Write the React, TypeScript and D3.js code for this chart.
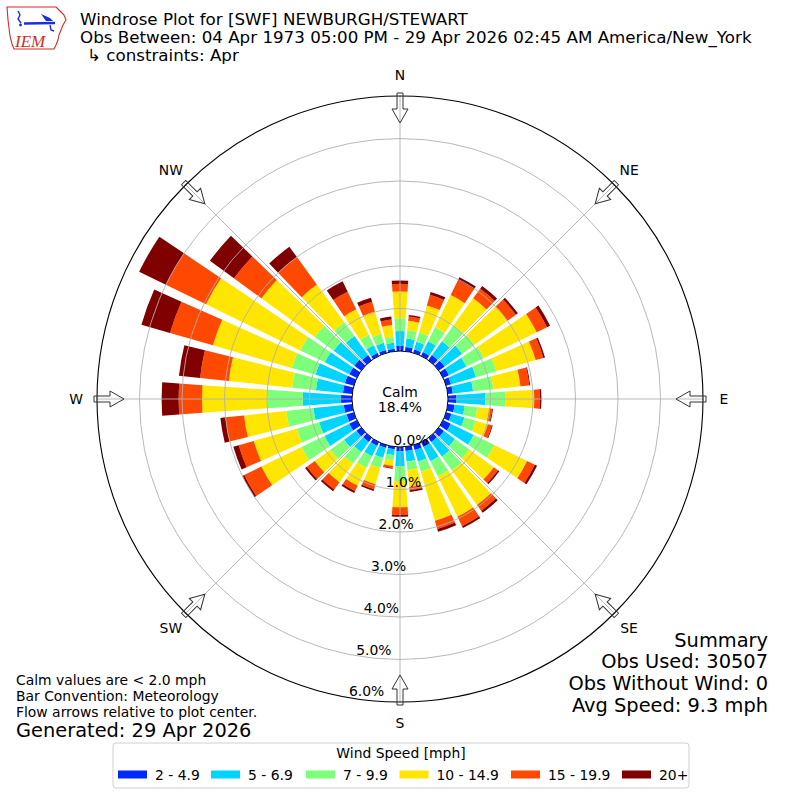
import * as d3 from 'd3';

// wind directions (degrees, meteorological convention)
const directions = [
  0, 10, 20, 30, 40, 50, 60, 70, 80, 90, 100, 110, 120, 130, 140, 150, 160, 170,
  180, 190, 200, 210, 220, 230, 240, 250, 260, 270, 280, 290, 300, 310, 320, 330, 340, 350,
];

const speedBins = ['2 - 4.9', '5 - 6.9', '7 - 9.9', '10 - 14.9', '15 - 19.9', '20+'];
const binColors = ['#0028ff', '#00d4ff', '#7dff7a', '#ffe600', '#ff4800', '#800000'];

// frequency (%) per direction for each speed bin
const freq2to5 = [
  0.12, 0.1, 0.08, 0.1, 0.15, 0.17, 0.15, 0.12, 0.12, 0.2, 0.16, 0.13, 0.2, 0.15, 0.12, 0.13, 0.12, 0.1,
  0.1, 0.06, 0.07, 0.1, 0.12, 0.14, 0.2, 0.18, 0.2, 0.26, 0.22, 0.22, 0.2, 0.2, 0.15, 0.08, 0.07, 0.06,
];
const freq5to7 = [
  0.35, 0.2, 0.19, 0.28, 0.4, 0.51, 0.46, 0.61, 0.48, 0.68, 0.24, 0.32, 0.6, 0.32, 0.43, 0.37, 0.28, 0.25,
  0.35, 0.14, 0.24, 0.27, 0.3, 0.36, 0.65, 0.67, 0.72, 0.9, 0.64, 0.72, 0.64, 0.6, 0.55, 0.2, 0.18, 0.14,
];
const freq7to10 = [
  0.3, 0.2, 0.23, 0.37, 0.47, 0.36, 0.46, 0.5, 0.48, 0.48, 0.3, 0.28, 0.54, 0.42, 0.4, 0.4, 0.25, 0.2,
  0.35, 0.12, 0.25, 0.3, 0.33, 0.4, 0.6, 0.55, 0.64, 0.83, 0.56, 0.58, 0.64, 0.55, 0.4, 0.27, 0.22, 0.14,
];
const freq10to15 = [
  0.63, 0.22, 0.66, 0.84, 0.78, 0.96, 1.38, 0.96, 0.64, 0.67, 0.28, 0.29, 0.86, 0.71, 1.0, 1.05, 1.2, 0.4,
  0.62, 0.13, 0.4, 0.47, 0.54, 0.45, 1.05, 1.05, 1.0, 1.54, 1.5, 1.93, 2.47, 1.55, 1.1, 0.67, 0.54, 0.28,
];
const freq15to20 = [
  0.18, 0.1, 0.26, 0.39, 0.28, 0.24, 0.27, 0.19, 0.21, 0.13, 0.07, 0.1, 0.2, 0.12, 0.17, 0.25, 0.2, 0.08,
  0.18, 0.05, 0.12, 0.14, 0.21, 0.23, 0.45, 0.37, 0.44, 0.55, 0.68, 1.05, 1.05, 0.8, 0.8, 0.46, 0.24, 0.13,
];
const freq20plus = [
  0.08, 0.04, 0.07, 0.08, 0.08, 0.06, 0.08, 0.04, 0.02, 0.04, 0.02, 0.02, 0.06, 0.04, 0.06, 0.05, 0.07, 0.04,
  0.04, 0.02, 0.04, 0.05, 0.05, 0.05, 0.05, 0.13, 0.12, 0.4, 0.5, 0.7, 0.7, 0.7, 0.3, 0.27, 0.1, 0.07,
];
const series = [freq2to5, freq5to7, freq7to10, freq10to15, freq15to20, freq20plus];

const radialTicks = [0, 1, 2, 3, 4, 5, 6];
const compassLabels = ['N', 'NE', 'E', 'SE', 'S', 'SW', 'W', 'NW'];
const compassAngles = [0, 45, 90, 135, 180, 225, 270, 315];

const titleLines = [
  'Windrose Plot for [SWF] NEWBURGH/STEWART',
  'Obs Between: 04 Apr 1973 05:00 PM - 29 Apr 2026 02:45 AM America/New_York',
];
const constraintText = '\u21b3 constraints: Apr';
const calmPercent = '18.4%';
const notes = ['Calm values are < 2.0 mph', 'Bar Convention: Meteorology', 'Flow arrows relative to plot center.'];
const generated = 'Generated: 29 Apr 2026';
const summary = ['Summary', 'Obs Used: 30507', 'Obs Without Wind: 0', 'Avg Speed: 9.3 mph'];

const FONT = "'DejaVu Sans', sans-serif";
const cx = 400;
const cy = 399;
const toRad = Math.PI / 180;

function Logo() {
  return (
    <g>
      <path
        d="M7,7 L56,7 L60,11 L64,15 L66,20 L63,25 L61,30 L59,35 L58,40 L56,45 L54,49 L14,49 L12,44 L10,36 L9,28 L8,20 Z"
        fill="white"
        stroke="#d42a2a"
        strokeWidth={1.1}
      />
      <path d="M18,11 L20,15 L18,19 L21,23" fill="none" stroke="#1b2fd6" strokeWidth={1.4} />
      <circle cx={20.5} cy={25} r={1.4} fill="#1b2fd6" />
      <path d="M24,23.5 L55,23" stroke="#1b2fd6" strokeWidth={2.4} />
      <path d="M41,14 L50,18 L53,21 L46,21 Z" fill="#1b2fd6" />
      <path d="M50,25 L51,30 L54,31" fill="none" stroke="#1b2fd6" strokeWidth={1.4} />
      <text
        x={15}
        y={47}
        fontFamily="'Liberation Serif', serif"
        fontStyle="italic"
        fontSize={17}
        fill="#d42a2a"
      >
        IEM
      </text>
    </g>
  );
}

export default function App() {
  const r = d3.scaleLinear().domain([0, 6]).range([48, 303]);

  const rows = directions.map((dir, i) => {
    const row: Record<string, number> = { dir };
    speedBins.forEach((b, k) => (row[b] = series[k][i]));
    return row;
  });
  const stacked = d3.stack<Record<string, number>>().keys(speedBins)(rows);

  const arc = d3.arc<{ innerRadius: number; outerRadius: number; startAngle: number; endAngle: number }>();
  const halfWidth = 4 * toRad; // opening 0.8 of a 10 degree sector

  const arrowPath = (angle: number) => {
    const base = cy - 306;
    const tip = cy - 276;
    const neck = tip - 14;
    const pts = [
      [cx - 3, base],
      [cx + 3, base],
      [cx + 3, neck],
      [cx + 8, neck],
      [cx, tip],
      [cx - 8, neck],
      [cx - 3, neck],
    ];
    return { d: 'M' + pts.map((p) => p.join(',')).join('L') + 'Z', transform: `rotate(${angle},${cx},${cy})` };
  };

  const legendX = [118, 211, 306, 399.5, 511, 622];

  return (
    <svg
      width={800}
      height={800}
      viewBox="0 0 800 800"
      style={{ position: 'absolute', left: 0, top: 0, background: 'white' }}
      fontFamily={FONT}
    >
      <rect width={800} height={800} fill="white" />

      {/* bars */}
      <g transform={`translate(${cx},${cy})`}>
        {stacked.map((layer, k) => (
          <g key={layer.key} fill={binColors[k]}>
            {layer.map((seg, i) => {
              const a = directions[i] * toRad;
              return (
                <path
                  key={i}
                  d={
                    arc({
                      innerRadius: r(seg[0]),
                      outerRadius: r(seg[1]),
                      startAngle: a - halfWidth,
                      endAngle: a + halfWidth,
                    }) as string
                  }
                />
              );
            })}
          </g>
        ))}
      </g>

      {/* grid */}
      <g fill="none" stroke="#b0b0b0" strokeWidth={0.9}>
        {radialTicks.slice(1, -1).map((t) => (
          <circle key={t} cx={cx} cy={cy} r={r(t)} />
        ))}
        {compassAngles.map((a) => (
          <line
            key={a}
            x1={cx + r(0) * Math.sin(a * toRad)}
            y1={cy - r(0) * Math.cos(a * toRad)}
            x2={cx + r(6) * Math.sin(a * toRad)}
            y2={cy - r(6) * Math.cos(a * toRad)}
          />
        ))}
      </g>
      <circle cx={cx} cy={cy} r={r(6)} fill="none" stroke="#000" strokeWidth={1.1} />

      {/* calm circle */}
      <circle cx={cx} cy={cy} r={r(0)} fill="white" stroke="#000" strokeWidth={1} />
      <text x={cx} y={396.5} textAnchor="middle" fontSize={13.9}>
        Calm
      </text>
      <text x={cx} y={412} textAnchor="middle" fontSize={13.9}>
        {calmPercent}
      </text>

      {/* radial tick labels */}
      {radialTicks.map((t) => (
        <text
          key={t}
          x={cx + r(t) * Math.sin(190 * toRad) + 1.5}
          y={cy - r(t) * Math.cos(190 * toRad) - 1}
          fontSize={13.9}
        >
          {t.toFixed(1)}%
        </text>
      ))}

      {/* direction arrows and labels */}
      {compassAngles.map((a, i) => {
        const p = arrowPath(a);
        return (
          <g key={a}>
            <path d={p.d} transform={p.transform} fill="none" stroke="#333" strokeWidth={1} />
            <text
              x={cx + 324 * Math.sin(a * toRad)}
              y={cy - 324 * Math.cos(a * toRad)}
              textAnchor="middle"
              dominantBaseline="central"
              fontSize={13.9}
            >
              {compassLabels[i]}
            </text>
          </g>
        );
      })}

      {/* header */}
      <Logo />
      <text x={80} y={24.5} fontSize={16.7}>
        {titleLines[0]}
      </text>
      <text x={80} y={42.5} fontSize={16.7}>
        {titleLines[1]}
      </text>
      <text x={87} y={61} fontSize={16.7}>
        {constraintText}
      </text>

      {/* notes */}
      {notes.map((n, i) => (
        <text key={n} x={16} y={684.5 + i * 16} fontSize={13.9}>
          {n}
        </text>
      ))}
      <text x={16} y={737} fontSize={19.4}>
        {generated}
      </text>
      {summary.map((s, i) => (
        <text key={s} x={768} y={646.5 + i * 21.7} textAnchor="end" fontSize={19.4}>
          {s}
        </text>
      ))}

      {/* legend */}
      <rect x={113} y={743} width={576} height={45} rx={3} fill="white" stroke="#d0d0d0" strokeWidth={1} />
      <text x={401} y={757.5} textAnchor="middle" fontSize={13.9}>
        Wind Speed [mph]
      </text>
      {speedBins.map((b, k) => (
        <g key={b}>
          <rect x={legendX[k]} y={770.5} width={29} height={8} fill={binColors[k]} />
          <text x={legendX[k] + 37} y={779.5} fontSize={13.9}>
            {b}
          </text>
        </g>
      ))}
    </svg>
  );
}
